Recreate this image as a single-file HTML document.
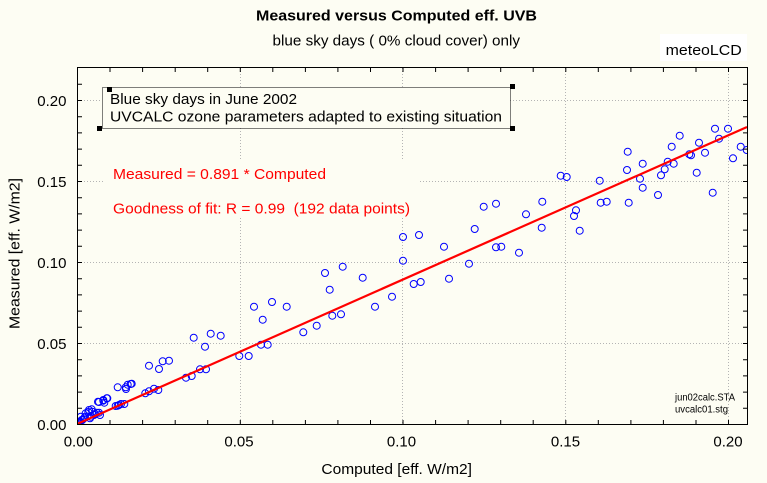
<!DOCTYPE html>
<html><head><meta charset="utf-8"><style>
html,body{margin:0;padding:0;background:#fdfdf3;}
svg{display:block;}
text{font-family:"Liberation Sans",Arial,sans-serif;}
</style></head><body>
<svg width="767" height="483" viewBox="0 0 767 483" xmlns="http://www.w3.org/2000/svg">
<defs><clipPath id="pc"><rect x="77.5" y="67.5" width="670" height="357"/></clipPath></defs>
<rect x="0" y="0" width="767" height="483" fill="#fdfdf3"/>
<text x="256" y="20.5" font-size="15" font-weight="bold" textLength="281" lengthAdjust="spacingAndGlyphs">Measured versus Computed eff. UVB</text>
<text x="272.5" y="45.5" font-size="15" textLength="247.5" lengthAdjust="spacingAndGlyphs" style="white-space:pre">blue sky days ( 0% cloud cover) only</text>
<rect x="660" y="34" width="87" height="27" fill="#ffffff"/>
<text x="665.7" y="55" font-size="15" textLength="76" lengthAdjust="spacingAndGlyphs">meteoLCD</text>
<g stroke="#b4b4b4" stroke-width="1" stroke-dasharray="1 2" fill="none">
<line x1="78" y1="100.5" x2="747" y2="100.5"/>
<line x1="78" y1="181.5" x2="747" y2="181.5"/>
<line x1="78" y1="262.5" x2="747" y2="262.5"/>
<line x1="78" y1="343.5" x2="747" y2="343.5"/>
<line x1="240.5" y1="68" x2="240.5" y2="424"/>
<line x1="402.5" y1="68" x2="402.5" y2="424"/>
<line x1="565.5" y1="68" x2="565.5" y2="424"/>
<line x1="728.5" y1="68" x2="728.5" y2="424"/>
</g>
<rect x="102" y="87" width="408" height="41" fill="#fdfdf3"/>
<rect x="102.5" y="87.5" width="408" height="41" fill="none" stroke="#000" stroke-width="1" stroke-dasharray="1 1"/>
<rect x="107" y="87" width="5" height="5" fill="#000"/>
<rect x="97" y="126" width="5" height="5" fill="#000"/>
<rect x="510" y="84" width="5" height="5" fill="#000"/>
<rect x="510" y="126" width="5" height="5" fill="#000"/>
<text x="110" y="104" font-size="15" textLength="187" lengthAdjust="spacingAndGlyphs">Blue sky days in June 2002</text>
<text x="110" y="121.7" font-size="15" textLength="392" lengthAdjust="spacingAndGlyphs">UVCALC ozone parameters adapted to existing situation</text>
<rect x="105" y="160" width="314" height="56" fill="#fdfdf3"/>
<text x="113" y="179" font-size="15" fill="#ff0000" textLength="213" lengthAdjust="spacingAndGlyphs">Measured = 0.891 * Computed</text>
<text x="113" y="213.3" font-size="15" fill="#ff0000" textLength="297" lengthAdjust="spacingAndGlyphs" style="white-space:pre">Goodness of fit: R = 0.99  (192 data points)</text>
<g clip-path="url(#pc)" fill="none" stroke="#0000ff" stroke-width="1">
<circle cx="254" cy="306.7" r="3.5"/><circle cx="272" cy="302" r="3.5"/><circle cx="286.7" cy="306.7" r="3.5"/><circle cx="262.7" cy="319.7" r="3.5"/><circle cx="303.3" cy="332.3" r="3.5"/><circle cx="193.7" cy="337.7" r="3.5"/><circle cx="210.7" cy="333.7" r="3.5"/><circle cx="220.7" cy="335.7" r="3.5"/><circle cx="205" cy="346.7" r="3.5"/><circle cx="149" cy="365.7" r="3.5"/><circle cx="159" cy="369" r="3.5"/><circle cx="162.7" cy="361.3" r="3.5"/><circle cx="169" cy="360.7" r="3.5"/><circle cx="239.3" cy="356" r="3.5"/><circle cx="248.7" cy="356" r="3.5"/><circle cx="261" cy="344.7" r="3.5"/><circle cx="267.7" cy="344.7" r="3.5"/><circle cx="186" cy="377.7" r="3.5"/><circle cx="191.7" cy="376" r="3.5"/><circle cx="200" cy="369.3" r="3.5"/><circle cx="206" cy="369.3" r="3.5"/><circle cx="145.3" cy="393.3" r="3.5"/><circle cx="149" cy="391.3" r="3.5"/><circle cx="154" cy="388.7" r="3.5"/><circle cx="158.3" cy="390" r="3.5"/><circle cx="117.7" cy="387.3" r="3.5"/><circle cx="126" cy="389" r="3.5"/><circle cx="127.7" cy="384.7" r="3.5"/><circle cx="131.7" cy="383.7" r="3.5"/><circle cx="117.7" cy="405.7" r="3.5"/><circle cx="121" cy="404" r="3.5"/><circle cx="124.3" cy="404" r="3.5"/><circle cx="99" cy="402" r="3.5"/><circle cx="104.3" cy="402.7" r="3.5"/><circle cx="106.7" cy="398.3" r="3.5"/><circle cx="103.3" cy="400.7" r="3.5"/><circle cx="91.7" cy="409.3" r="3.5"/><circle cx="88.3" cy="412" r="3.5"/><circle cx="95" cy="414" r="3.5"/><circle cx="100" cy="415" r="3.5"/><circle cx="96.7" cy="412.7" r="3.5"/><circle cx="81.7" cy="420" r="3.5"/><circle cx="85" cy="416.7" r="3.5"/><circle cx="80" cy="421.7" r="3.5"/><circle cx="90" cy="418.3" r="3.5"/>
<circle cx="316.7" cy="325.7" r="3.5"/><circle cx="332.3" cy="315.7" r="3.5"/><circle cx="341" cy="314.3" r="3.5"/><circle cx="325" cy="273" r="3.5"/><circle cx="329.7" cy="289.7" r="3.5"/><circle cx="342.7" cy="266.7" r="3.5"/><circle cx="362.7" cy="277.7" r="3.5"/><circle cx="375" cy="306.7" r="3.5"/><circle cx="392" cy="296.7" r="3.5"/><circle cx="403" cy="237" r="3.5"/><circle cx="403" cy="260.7" r="3.5"/><circle cx="419" cy="235" r="3.5"/><circle cx="413.7" cy="284" r="3.5"/><circle cx="420.7" cy="282" r="3.5"/><circle cx="444" cy="246.7" r="3.5"/><circle cx="449" cy="278.7" r="3.5"/><circle cx="469" cy="263.7" r="3.5"/><circle cx="474.7" cy="229" r="3.5"/><circle cx="483.7" cy="206.7" r="3.5"/><circle cx="496" cy="203.7" r="3.5"/><circle cx="496" cy="247.3" r="3.5"/><circle cx="501.3" cy="246.7" r="3.5"/><circle cx="519" cy="252.7" r="3.5"/><circle cx="526" cy="214.3" r="3.5"/>
<circle cx="542.3" cy="201.7" r="3.5"/><circle cx="541.7" cy="227.7" r="3.5"/><circle cx="560.7" cy="175.7" r="3.5"/><circle cx="566.7" cy="177" r="3.5"/><circle cx="574" cy="216" r="3.5"/><circle cx="576" cy="210.3" r="3.5"/><circle cx="579.7" cy="230.7" r="3.5"/><circle cx="599.7" cy="180.7" r="3.5"/><circle cx="600.7" cy="202.7" r="3.5"/><circle cx="606.7" cy="201.7" r="3.5"/><circle cx="628.7" cy="202.7" r="3.5"/><circle cx="627" cy="170" r="3.5"/><circle cx="627.7" cy="151.7" r="3.5"/><circle cx="642.7" cy="163.7" r="3.5"/><circle cx="640" cy="178.7" r="3.5"/><circle cx="642.7" cy="187.7" r="3.5"/><circle cx="658" cy="195" r="3.5"/><circle cx="661" cy="175.3" r="3.5"/><circle cx="664.7" cy="169.3" r="3.5"/><circle cx="667.7" cy="161.7" r="3.5"/><circle cx="673.7" cy="163.7" r="3.5"/><circle cx="671.7" cy="146.7" r="3.5"/><circle cx="679.7" cy="135.7" r="3.5"/><circle cx="689.3" cy="154.3" r="3.5"/><circle cx="691" cy="155.3" r="3.5"/><circle cx="696.7" cy="172.7" r="3.5"/><circle cx="699" cy="142.7" r="3.5"/><circle cx="705" cy="152.7" r="3.5"/><circle cx="712.7" cy="192.7" r="3.5"/><circle cx="715" cy="128.7" r="3.5"/><circle cx="719" cy="138.7" r="3.5"/><circle cx="728" cy="128.7" r="3.5"/><circle cx="733" cy="158.3" r="3.5"/><circle cx="740.7" cy="146.7" r="3.5"/><circle cx="746.7" cy="150" r="3.5"/>
<circle cx="125.7" cy="387.3" r="3.5"/><circle cx="130.7" cy="384" r="3.5"/><circle cx="98" cy="401.7" r="3.5"/><circle cx="103.3" cy="400" r="3.5"/><circle cx="107.3" cy="398.3" r="3.5"/><circle cx="119" cy="405" r="3.5"/><circle cx="115.7" cy="406" r="3.5"/><circle cx="89" cy="410" r="3.5"/><circle cx="85.7" cy="413.3" r="3.5"/><circle cx="92.3" cy="411.7" r="3.5"/><circle cx="99" cy="412.7" r="3.5"/><circle cx="80.7" cy="416.7" r="3.5"/><circle cx="82.3" cy="420" r="3.5"/><circle cx="79" cy="421.7" r="3.5"/><circle cx="84" cy="418.3" r="3.5"/><circle cx="90.7" cy="416.7" r="3.5"/><circle cx="94" cy="415" r="3.5"/><circle cx="77.3" cy="421.7" r="3.5"/><circle cx="78" cy="423" r="3.5"/>
</g>
<line x1="77" y1="424" x2="747" y2="127" stroke="#ff0000" stroke-width="2.2" clip-path="url(#pc)"/>
<rect x="77.5" y="67.5" width="670" height="357" fill="none" stroke="#000" stroke-width="1"/>
<g stroke="#000" stroke-width="1">
<path d="M77.5 424V420M110 424V420M142.6 424V420M175.2 424V420M207.7 424V420M240.3 424V420M272.8 424V420M305.4 424V420M337.9 424V420M370.5 424V420M403 424V420M435.6 424V420M468.1 424V420M500.7 424V420M533.2 424V420M565.8 424V420M598.3 424V420M630.9 424V420M663.4 424V420M696 424V420M728.5 424V420"/>
<path d="M77.5 68V72M110 68V72M142.6 68V72M175.2 68V72M207.7 68V72M240.3 68V72M272.8 68V72M305.4 68V72M337.9 68V72M370.5 68V72M403 68V72M435.6 68V72M468.1 68V72M500.7 68V72M533.2 68V72M565.8 68V72M598.3 68V72M630.9 68V72M663.4 68V72M696 68V72M728.5 68V72"/>
<path d="M78 424.5H82M78 408.3H82M78 392.1H82M78 375.9H82M78 359.7H82M78 343.5H82M78 327.3H82M78 311.1H82M78 294.9H82M78 278.7H82M78 262.5H82M78 246.3H82M78 230.1H82M78 213.9H82M78 197.7H82M78 181.5H82M78 165.3H82M78 149.1H82M78 132.9H82M78 116.7H82M78 100.5H82M78 84.3H82"/>
<path d="M747 424.5H743M747 408.3H743M747 392.1H743M747 375.9H743M747 359.7H743M747 343.5H743M747 327.3H743M747 311.1H743M747 294.9H743M747 278.7H743M747 262.5H743M747 246.3H743M747 230.1H743M747 213.9H743M747 197.7H743M747 181.5H743M747 165.3H743M747 149.1H743M747 132.9H743M747 116.7H743M747 100.5H743M747 84.3H743"/>
</g>
<g font-size="15" text-anchor="end">
<text x="66.5" y="106">0.20</text>
<text x="66.5" y="187">0.15</text>
<text x="66.5" y="268">0.10</text>
<text x="66.5" y="349">0.05</text>
<text x="66.5" y="430">0.00</text>
</g>
<g font-size="15" text-anchor="middle">
<text x="78.3" y="446.5">0.00</text>
<text x="239" y="446.5">0.05</text>
<text x="401.5" y="446.5">0.10</text>
<text x="565.5" y="446.5">0.15</text>
<text x="728" y="446.5">0.20</text>
</g>
<text x="321.4" y="474" font-size="15" textLength="150.6" lengthAdjust="spacingAndGlyphs">Computed [eff. W/m2]</text>
<text transform="translate(19.5,253.5) rotate(-90)" x="0" y="0" font-size="15" text-anchor="middle" textLength="151" lengthAdjust="spacingAndGlyphs">Measured [eff. W/m2]</text>
<text x="675" y="400.5" font-size="10" textLength="60" lengthAdjust="spacingAndGlyphs">jun02calc.STA</text>
<text x="675" y="412.3" font-size="10" textLength="53" lengthAdjust="spacingAndGlyphs">uvcalc01.stg</text>
</svg>
</body></html>
